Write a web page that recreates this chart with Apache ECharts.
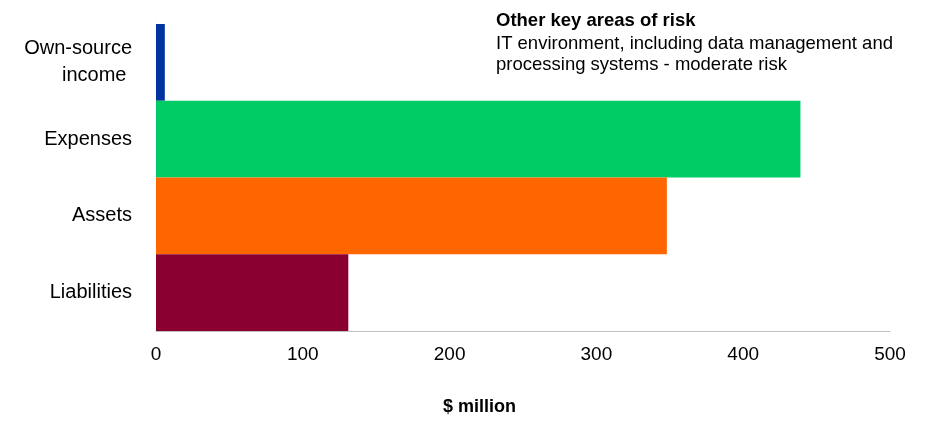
<!DOCTYPE html>
<html>
<head>
<meta charset="utf-8">
<script src="https://cdn.jsdelivr.net/npm/echarts@6/dist/echarts.min.js"></script>
<style>
  html, body { margin: 0; padding: 0; background: #fff; }
  #chart { width: 931px; height: 430px; }
</style>
</head>
<body>
<div id="chart"></div>
<script>
// Values ($ million)
const categories = ["Own-source\nincome ", "Expenses", "Assets", "Liabilities"];
const values = [6, 439, 348, 131];
const barColors = ["#0033a0", "#00cc66", "#ff6600", "#8a0030"];
const xTicks = [0, 100, 200, 300, 400, 500];

const FONT = "Liberation Sans, Arial, sans-serif";

const chart = echarts.init(document.getElementById("chart"));

chart.setOption({
  animation: false,
  grid: { left: 156, right: 41, top: 24, bottom: 99 },
  xAxis: {
    type: "value",
    min: xTicks[0],
    max: xTicks[xTicks.length - 1],
    interval: 100,
    splitLine: { show: false },
    axisLine: { show: true, lineStyle: { color: "#c0c0c0", width: 1 } },
    axisTick: { show: false },
    axisLabel: { color: "#000", fontSize: 19, fontFamily: FONT, margin: 14 }
  },
  yAxis: {
    type: "category",
    inverse: true,
    data: categories,
    axisLine: { show: true, lineStyle: { color: "#d9d9d9", width: 1 } },
    axisTick: { show: false },
    axisLabel: {
      color: "#000", fontSize: 20, fontFamily: FONT, margin: 24,
      align: "right", lineHeight: 27
    }
  },
  series: [{
    type: "bar",
    barCategoryGap: 0,
    data: values.map((v, i) => ({ value: v, itemStyle: { color: barColors[i] } }))
  }],
  graphic: [
    {
      type: "text", left: 496, top: 11,
      style: { text: "Other key areas of risk", font: "bold 18.5px " + FONT, fill: "#000" }
    },
    {
      type: "text", left: 496, top: 33,
      style: {
        text: "IT environment, including data management and\nprocessing systems - moderate risk",
        font: "18.5px " + FONT, fill: "#000", lineHeight: 21
      }
    },
    {
      type: "text", left: 443, top: 398,
      style: { text: "$ million", font: "bold 18px " + FONT, fill: "#000" }
    }
  ]
});
</script>
</body>
</html>
